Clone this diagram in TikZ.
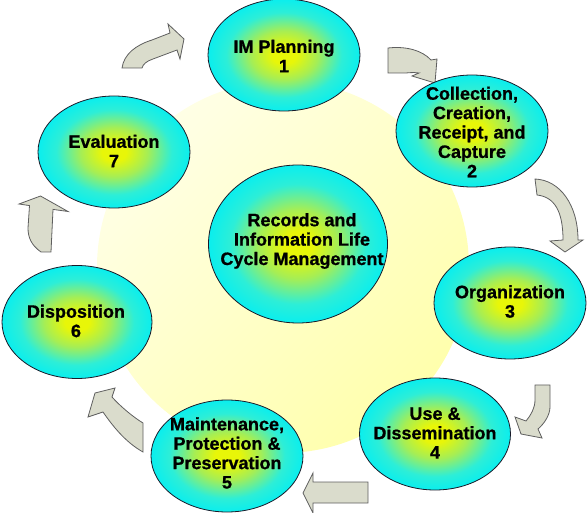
\documentclass[tikz,border=0pt]{standalone}
\usepackage{fontspec}
\setmainfont[BoldFeatures={FakeBold=0.8}]{Liberation Sans}
\usetikzlibrary{shapes.geometric}
\definecolor{ycA}{RGB}{232,246,8}
\definecolor{ycB}{RGB}{165,238,85}
\definecolor{ycC}{RGB}{45,238,215}
\definecolor{ycD}{RGB}{10,238,238}
\definecolor{ellline}{RGB}{25,25,40}
\definecolor{arrfill}{RGB}{218,220,204}
\definecolor{arrline}{RGB}{95,95,95}
\definecolor{bgL}{RGB}{255,255,230}
\definecolor{bgD}{RGB}{255,255,172}
\pgfdeclareradialshading{ycball}{\pgfpointorigin}{color(0bp)=(ycA); color(4bp)=(ycA); color(11bp)=(ycB); color(19bp)=(ycC); color(25bp)=(ycD); color(50bp)=(ycD)}
\begin{document}
\begin{tikzpicture}[x=1pt,y=-1pt,
  stage/.style={ellipse, draw=ellline, line width=0.8pt, shade, shading=ycball, inner sep=0pt, minimum width=152pt, minimum height=112pt},
  lbl/.style={align=center, font=\fontsize{18}{19.4}\selectfont\bfseries, text=black, inner sep=0pt},
  barrow/.style={fill=arrfill, draw=arrline, line width=0.8pt, line join=miter}]
\useasboundingbox (0,0) rectangle (587,513);
% background circle
\shade[top color=bgL, bottom color=bgD, shading angle=45] (283,267) circle[radius=186pt];
% block arrows
\draw[barrow] (122,68) .. controls (124,54) and (136,45) .. (152,40) -- (170,33) -- (168,24) -- (184,39) -- (180,59) -- (177,50) -- (153,59) .. controls (147,61) and (143,64) .. (142,68) -- cycle;
\draw[barrow] (388,48) .. controls (405,46) and (422,50) .. (431,60) -- (437,59) -- (435,83) -- (412,76) -- (419,73) .. controls (413,72) and (408,73) .. (405,73) -- (388,73) -- cycle;
\draw[barrow] (535,179) .. controls (560,180) and (578,205) .. (578,240) -- (583,240) -- (565,252) -- (550,241) -- (563,240) .. controls (563,212) and (555,197) .. (537,195) -- cycle;
\draw[barrow] (535,385) -- (550,385) -- (550,407) .. controls (550,415) and (544,424) .. (538,429) -- (542,438) -- (521,434) -- (515,417) -- (526,421) .. controls (531,415) and (535,408) .. (535,400) -- cycle;
\draw[barrow] (368,482) -- (368,503) -- (313,503) -- (313,513) -- (303,493) -- (313,473) -- (313,482) -- cycle;
\draw[barrow] (143,423) .. controls (133,417) and (120,406) .. (112,397) -- (115,388) -- (95,393) -- (88,417) -- (103,412) .. controls (112,425) and (125,442) .. (143,452) -- cycle;
\draw[barrow] (51,252) -- (41,252) .. controls (31,245) and (28,237) .. (28,228) -- (29.5,205.6) -- (19,204) -- (40.5,196) -- (68,211.5) -- (53,209.4) -- cycle;
% stages
\node[stage] (s1) at (284,55) {};
\node[stage] (s2) at (472,131) {};
\node[stage] (s3) at (510,303) {};
\node[stage, minimum width=151pt] (s4) at (435,434) {};
\node[stage] (s5) at (227,456) {};
\node[stage, minimum width=150pt, minimum height=113pt] (s6) at (77,322) {};
\node[stage] (s7) at (114,152) {};
\node[stage, minimum width=179pt, minimum height=158pt] (c) at (298,244) {};
% labels
\node[lbl] (t1) at (284,56) {IM Planning\\1};
\node[lbl] (t2) at (472,132) {Collection,\\Creation,\\Receipt, and\\Capture\\2};
\node[lbl] (t3) at (510,301.5) {Organization\\3};
\node[lbl] (t4) at (435,433) {Use \&\\Dissemination\\4};
\node[lbl] (t5) at (227,453) {Maintenance,\\Protection \&\\Preservation\\5};
\node[lbl] (t6) at (76,321) {Disposition\\6};
\node[lbl] (t7) at (114,151) {Evaluation\\7};
\node[lbl] (tc) at (302,241) {Records and\\Information Life\\Cycle Management};
\end{tikzpicture}
\end{document}
